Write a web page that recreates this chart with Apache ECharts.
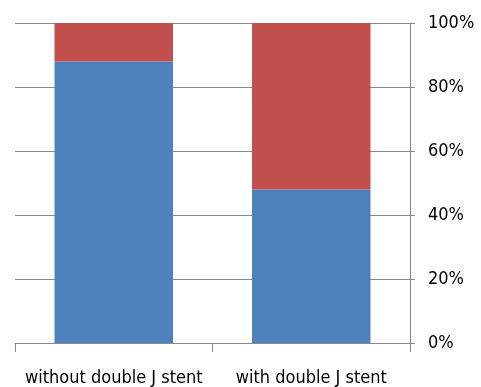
<!DOCTYPE html>
<html>
<head>
<meta charset="utf-8">
<script src="https://cdn.jsdelivr.net/npm/echarts@6/dist/echarts.min.js"></script>
<style>
  html, body { margin: 0; padding: 0; background: #fff; }
  #chart { width: 481px; height: 387px; }
</style>
</head>
<body>
<div id="chart"></div>
<script>
// Share of patients per group (percent, stacked to 100%)
const categories = ['without double J stent', 'with double J stent'];
const lowerShare = [88, 48];
const upperShare = [12, 52];
const yTicks = { min: 0, max: 100, interval: 20 };

const gridColor = '#8a8a8a';
const font = '"Liberation Sans Narrow", "DejaVu Sans Condensed", sans-serif';

const chart = echarts.init(document.getElementById('chart'), null, { renderer: 'canvas' });
chart.setOption({
  animation: false,
  backgroundColor: '#ffffff',
  grid: { left: 15, right: 71, top: 23, bottom: 43, containLabel: false },
  xAxis: {
    type: 'category',
    data: categories,
    boundaryGap: true,
    axisLine: { show: true, lineStyle: { color: gridColor, width: 1 } },
    axisTick: { show: true, length: 9, lineStyle: { color: gridColor } },
    axisLabel: { interval: 0, color: '#000', fontFamily: font, fontSize: 18, margin: 26 }
  },
  yAxis: {
    type: 'value',
    position: 'right',
    min: yTicks.min,
    max: yTicks.max,
    interval: yTicks.interval,
    axisLine: { show: true, lineStyle: { color: gridColor, width: 1 } },
    axisTick: { show: true, length: 5, lineStyle: { color: gridColor } },
    splitLine: { show: true, lineStyle: { color: gridColor, width: 1 } },
    axisLabel: { color: '#000', fontFamily: font, fontSize: 18, margin: 18, formatter: '{value}%' }
  },
  series: [
    {
      type: 'bar',
      stack: 'total',
      data: lowerShare,
      barWidth: '60%',
      itemStyle: { color: '#4F81BD' }
    },
    {
      type: 'bar',
      stack: 'total',
      data: upperShare,
      barWidth: '60%',
      itemStyle: { color: '#C0504D' }
    }
  ]
});
</script>
</body>
</html>
